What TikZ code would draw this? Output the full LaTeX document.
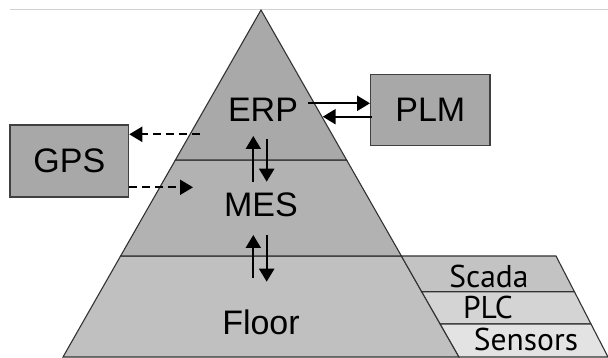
\documentclass[tikz,border=0pt]{standalone}
\usepackage{fontspec}
\setmainfont{Liberation Sans}
\newfontfamily\stackfont{PT Sans}
\usetikzlibrary{arrows.meta}
\definecolor{erpgray}{HTML}{A9A9A9}
\definecolor{mesgray}{HTML}{B2B2B2}
\definecolor{floorgray}{HTML}{C0C0C0}
\definecolor{boxgray}{HTML}{A8A8A8}
\definecolor{boxedge}{HTML}{404040}
\definecolor{scadagray}{HTML}{C3C3C3}
\definecolor{plcgray}{HTML}{D4D4D4}
\definecolor{sensgray}{HTML}{E3E3E3}
\definecolor{rulegray}{HTML}{D2D2D2}
\begin{document}
\begin{tikzpicture}[x=1pt,y=-1pt,
  lbl/.style={font=\fontsize{34}{36}\selectfont, inner sep=0pt},
  stk/.style={font=\stackfont\fontsize{31.5}{34}\selectfont, inner sep=0pt},
  sidebox/.style={draw=boxedge, fill=boxgray, line width=1.2pt, inner sep=0pt,
    font=\fontsize{34}{36}\selectfont},
  layer/.style={draw=black!80, line width=1.1pt, line join=miter},
  arr/.style={line width=2.2pt, -{Triangle[length=13pt,width=15pt]}},
  darr/.style={arr, dash pattern=on 8pt off 5pt}]
\useasboundingbox (0,0) rectangle (608,358);
% top rule
\draw[rulegray, line width=1pt] (10,9.5) -- (608,9.5);
% pyramid corners
\coordinate (apex) at (261,10);
\coordinate (l1) at (175.4,160); \coordinate (r1) at (346.6,160);
\coordinate (l2) at (120.6,256); \coordinate (r2) at (401.4,256);
\coordinate (l3) at (63,357);    \coordinate (r3) at (459,357);
% side stack corners
\coordinate (sa) at (421.7,291.7); \coordinate (sb) at (440.2,324);
\coordinate (t0) at (556,256); \coordinate (ta) at (574.4,291.7);
\coordinate (tb) at (591,324); \coordinate (tc) at (608,357);
% layers
\filldraw[layer, fill=floorgray] (l2) -- (r2) -- (r3) -- (l3) -- cycle;
\filldraw[layer, fill=mesgray] (l1) -- (r1) -- (r2) -- (l2) -- cycle;
\filldraw[layer, fill=erpgray] (apex) -- (r1) -- (l1) -- cycle;
\filldraw[layer, fill=scadagray] (r2) -- (t0) -- (ta) -- (sa) -- cycle;
\filldraw[layer, fill=plcgray] (sa) -- (ta) -- (tb) -- (sb) -- cycle;
\filldraw[layer, fill=sensgray] (sb) -- (tb) -- (tc) -- (r3) -- cycle;
% labels
\node[lbl] (erp) at (263,110) {ERP};
\node[lbl] (mes) at (261,205) {MES};
\node[lbl] (floor) at (261,322) {Floor};
\node[stk] (scada) at (489,276.5) {Scada};
\node[stk] (plc) at (488,307.5) {PLC};
\node[stk] (sens) at (526,339.5) {Sensors};
% side boxes
\node[sidebox, minimum width=118.7pt, minimum height=72pt] (gps) at (69.3,161) {GPS};
\node[sidebox, minimum width=119.3pt, minimum height=71.7pt] (plm) at (430.3,110) {PLM};
% arrow anchors
\coordinate (erpout) at (308,103.3);
\coordinate (erpin) at (322.7,116.7);
\coordinate (plmout) at (plm.west |- erpin);
\coordinate (gpsfrom) at (200,134.3);
\coordinate (mesto) at (193,187.3);
\coordinate (em1) at (253.3,181.7); \coordinate (em1t) at (253.3,136);
\coordinate (em2) at (266.7,139.3); \coordinate (em2t) at (266.7,181.7);
\coordinate (mf1) at (253.3,278);   \coordinate (mf1t) at (253.3,235);
\coordinate (mf2) at (266.7,235);   \coordinate (mf2t) at (266.7,281.7);
% connectors
\draw[arr] (erpout) -- (plm.west |- erpout);
\draw[arr] ([xshift=2pt]plmout) -- (erpin);
\draw[darr] (gpsfrom) -- (gps.east |- gpsfrom);
\draw[darr] (gps.east |- mesto) -- (mesto);
\draw[arr] (em1) -- (em1t);
\draw[arr] (em2) -- (em2t);
\draw[arr] (mf1) -- (mf1t);
\draw[arr] (mf2) -- (mf2t);
\end{tikzpicture}
\end{document}
